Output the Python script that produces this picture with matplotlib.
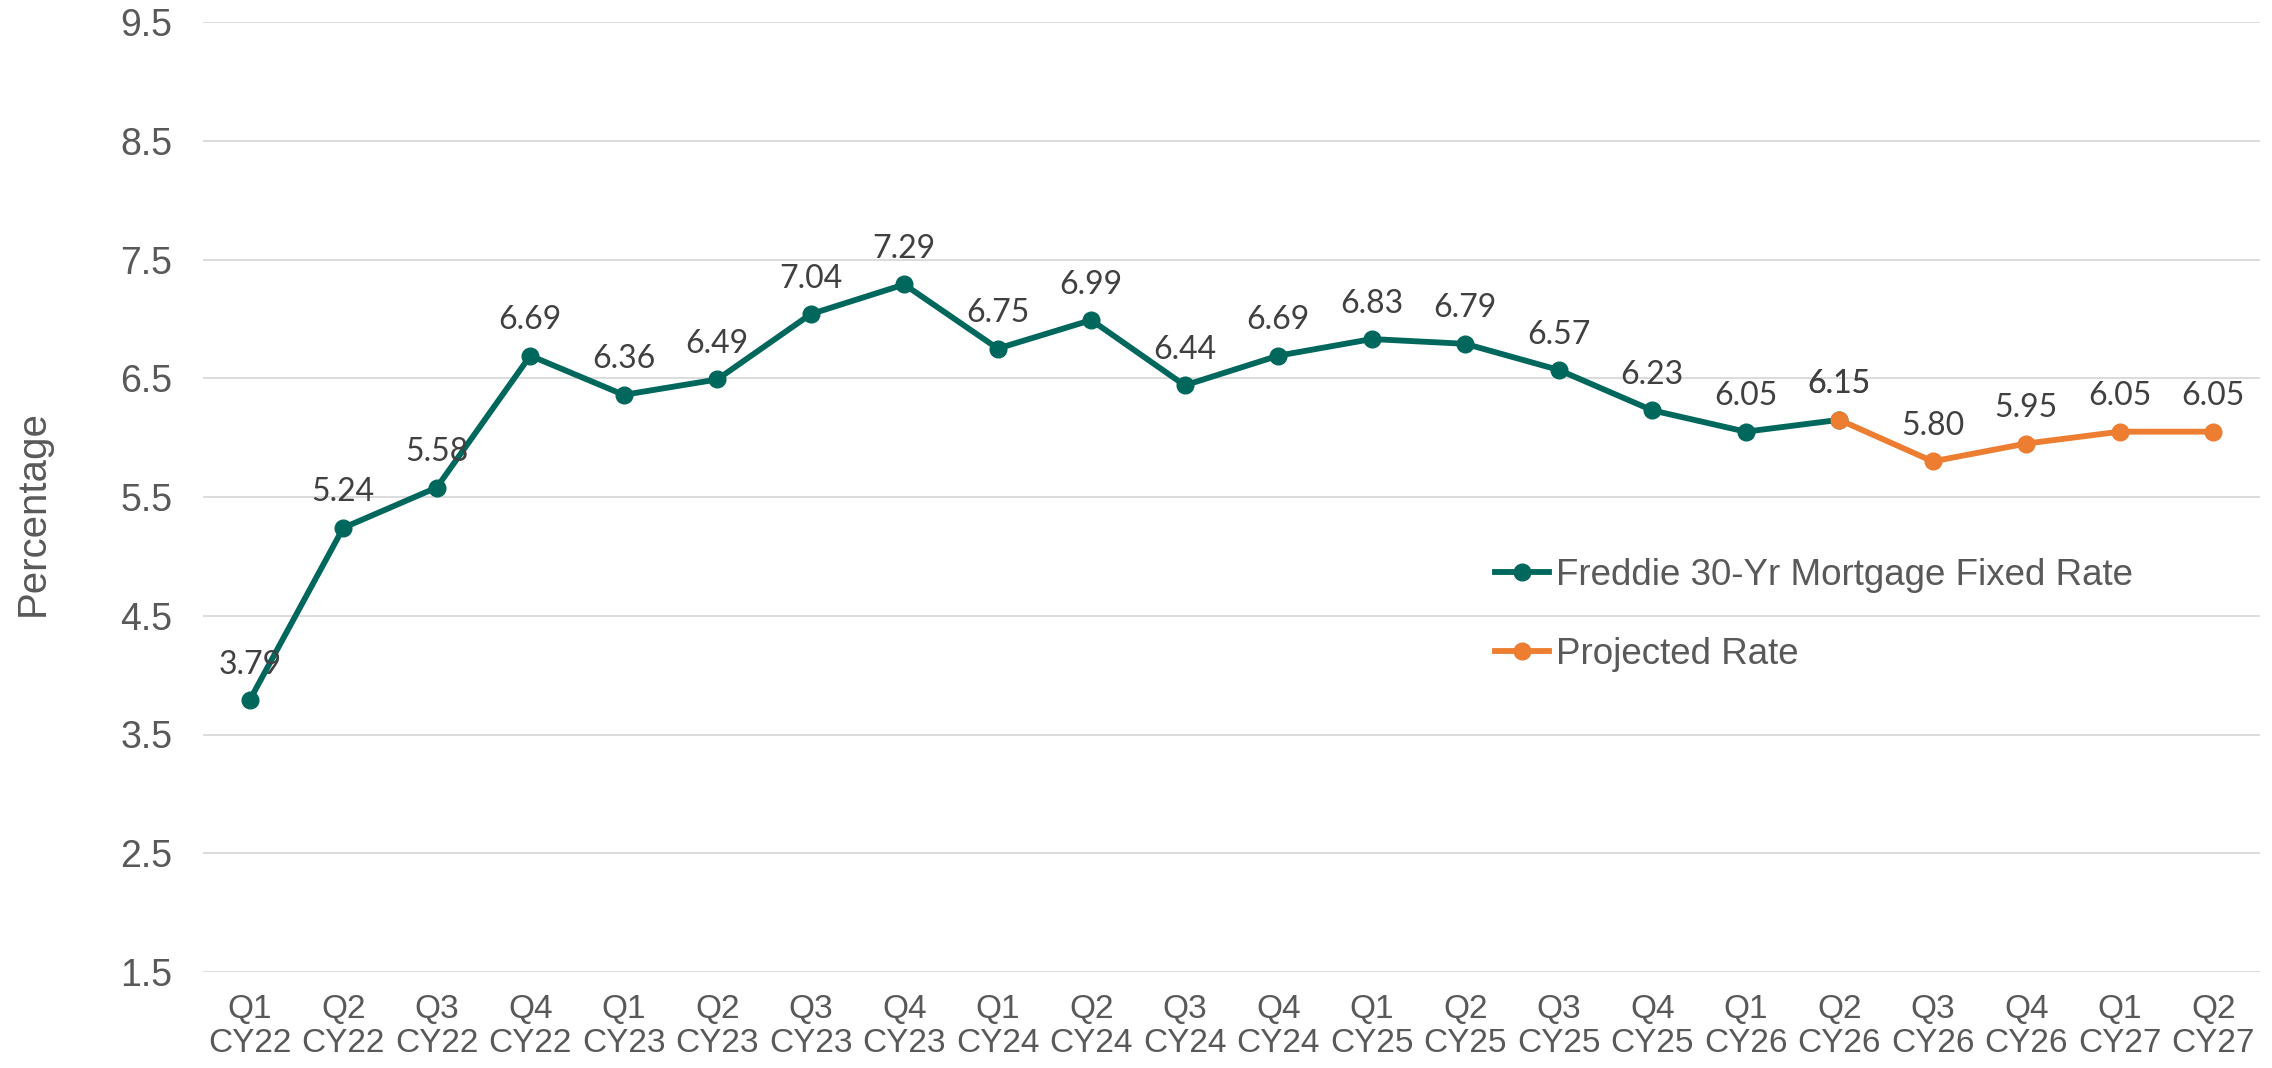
import matplotlib
matplotlib.use("Agg")
import matplotlib.pyplot as plt

# Quarter labels along the x axis
quarters = ["Q1\nCY22", "Q2\nCY22", "Q3\nCY22", "Q4\nCY22",
            "Q1\nCY23", "Q2\nCY23", "Q3\nCY23", "Q4\nCY23",
            "Q1\nCY24", "Q2\nCY24", "Q3\nCY24", "Q4\nCY24",
            "Q1\nCY25", "Q2\nCY25", "Q3\nCY25", "Q4\nCY25",
            "Q1\nCY26", "Q2\nCY26", "Q3\nCY26", "Q4\nCY26",
            "Q1\nCY27", "Q2\nCY27"]

# Freddie 30-yr fixed rate, Q1 CY22 .. Q2 CY26
actual = [3.79, 5.24, 5.58, 6.69, 6.36, 6.49, 7.04, 7.29, 6.75, 6.99,
          6.44, 6.69, 6.83, 6.79, 6.57, 6.23, 6.05, 6.15]
# projection, Q2 CY26 .. Q2 CY27
projected = [6.15, 5.80, 5.95, 6.05, 6.05]

yticks = [1.5, 2.5, 3.5, 4.5, 5.5, 6.5, 7.5, 8.5, 9.5]

TEAL = "#00675D"
ORANGE = "#ED7D31"
GRAY = "#595959"
LABEL = "#404040"

fig = plt.figure(figsize=(22.72, 10.68), dpi=100)
ax = fig.add_axes([203 / 2272, 1 - 972 / 1068, (2260 - 203) / 2272, (972 - 22) / 1068])

x_act = list(range(len(actual)))
x_proj = list(range(len(actual) - 1, len(actual) - 1 + len(projected)))

ax.plot(x_act, actual, color=TEAL, lw=4.2, marker="o", ms=12,
        label="Freddie 30-Yr Mortgage Fixed Rate", zorder=3)
ax.plot(x_proj, projected, color=ORANGE, lw=4.2, marker="o", ms=12,
        label="Projected Rate", zorder=4)

# data labels above each point (the shared point gets drawn twice, like the original)
for xs, ys in ((x_act, actual), (x_proj, projected)):
    for x, y in zip(xs, ys):
        ax.annotate(f"{y:.2f}", (x, y), xytext=(0, 19), textcoords="offset points",
                    ha="center", va="baseline", fontsize=23, family="Lato",
                    color=LABEL, zorder=5)

ax.set_xlim(-0.5, len(quarters) - 0.5)
ax.set_ylim(1.5, 9.5)
ax.set_xticks(range(len(quarters)))
ax.set_xticklabels(quarters, fontsize=24, family="Liberation Sans", color=GRAY,
                   linespacing=1.1)
ax.set_yticks(yticks)
ax.set_yticklabels([f"{t:.1f}" for t in yticks], fontsize=27,
                   family="Liberation Sans", color=GRAY)
ax.tick_params(axis="x", length=0, pad=16)
ax.tick_params(axis="y", length=0, pad=22)

ax.grid(axis="y", color="#D9D9D9", lw=1.3)
ax.set_axisbelow(True)
for s in ax.spines.values():
    s.set_visible(False)

fig.text(33 / 2272, 1 - 513 / 1068, "Percentage", rotation=90, ha="center", va="center",
         fontsize=29, family="Liberation Sans", color=GRAY)

leg = ax.legend(loc="center left", bbox_to_anchor=(1495 / 2272, 1 - 615 / 1068),
                bbox_transform=fig.transFigure, frameon=False, borderpad=0,
                borderaxespad=0, handlelength=1.47, handletextpad=0.2,
                labelspacing=1.2, prop={"family": "Liberation Sans", "size": 26.5},
                labelcolor=GRAY, numpoints=1)

plt.savefig("out.png", dpi=100)
